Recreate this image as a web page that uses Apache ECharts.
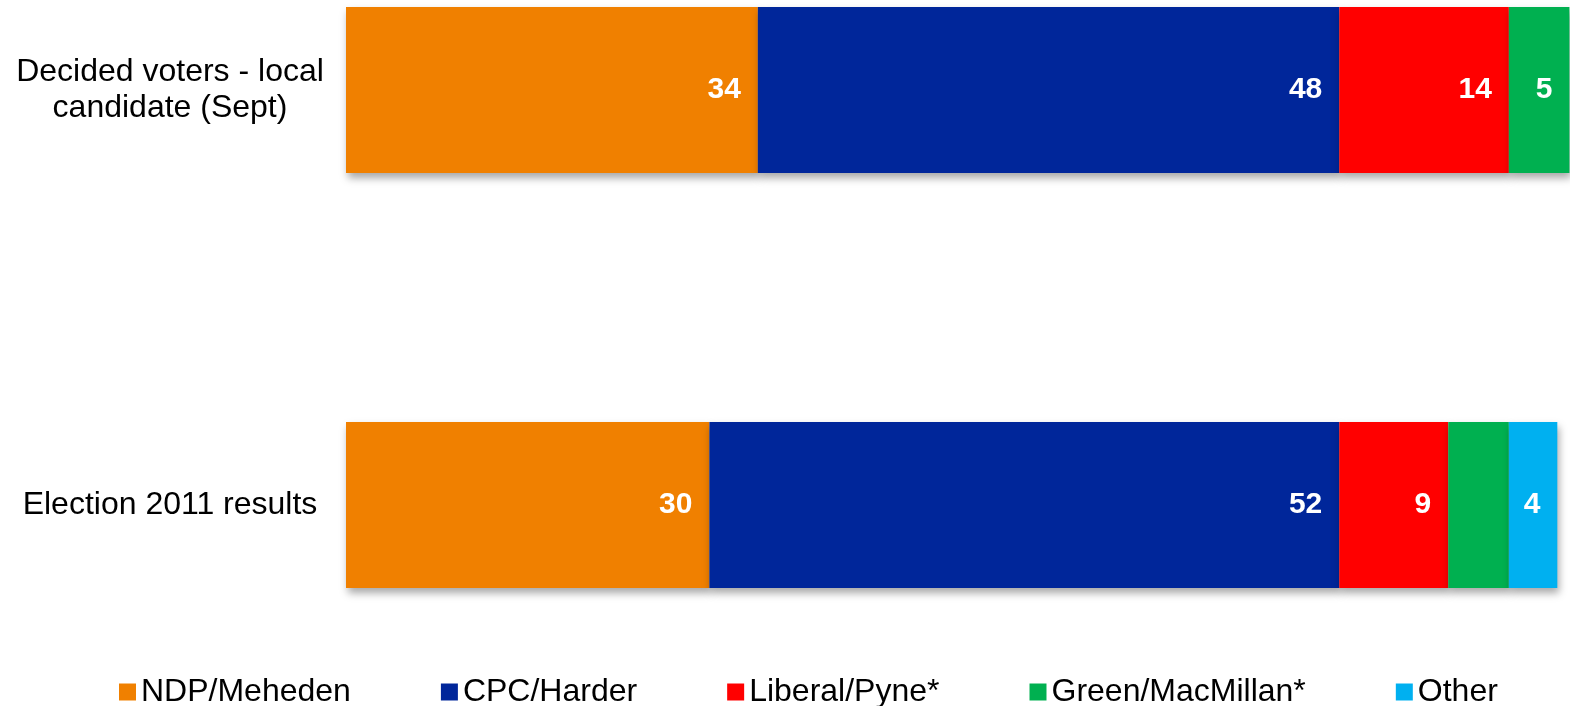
<!DOCTYPE html>
<html>
<head>
<meta charset="utf-8">
<script src="https://cdn.jsdelivr.net/npm/echarts@6/dist/echarts.min.js"></script>
<style>html,body{margin:0;padding:0;background:#fff;}#main{width:1570px;height:706px;}</style>
</head>
<body>
<div id="main"></div>
<script>
const categories = ['Decided voters - local\ncandidate (Sept)', 'Election 2011 results'];
const seriesNames = ['NDP/Meheden', 'CPC/Harder', 'Liberal/Pyne*', 'Green/MacMillan*', 'Other'];
const ndpValues = [34, 30];
const cpcValues = [48, 52];
const liberalValues = [14, 9];
const greenValues = [5, 5];
const otherValues = [0, 4];
const hiddenLabels = [[], [], [], [1], [0]];
const colors = ['#F08000', '#00269A', '#FF0000', '#00B050', '#00B0F0'];

const allValues = [ndpValues, cpcValues, liberalValues, greenValues, otherValues];
const font = 'Liberation Sans, Arial, sans-serif';

const chart = echarts.init(document.getElementById('main'));
chart.setOption({
  animation: false,
  backgroundColor: '#ffffff',
  grid: { left: 346, right: 3, top: 90, bottom: 201, containLabel: false },
  xAxis: { type: 'value', min: 0, max: 100.8, show: false },
  yAxis: {
    type: 'category', data: categories, inverse: true, boundaryGap: false,
    axisLine: { show: false }, axisTick: { show: false }, splitLine: { show: false },
    axisLabel: { margin: 176, align: 'center', fontSize: 32, lineHeight: 36, padding: [4, 0, 0, 0], color: '#000', fontFamily: font }
  },
  legend: {
    bottom: -7, left: 114, itemGap: 90, itemWidth: 17, itemHeight: 17, icon: 'rect',
    textStyle: { fontSize: 32, color: '#000', fontFamily: font },
    data: seriesNames
  },
  series: seriesNames.map((name, i) => ({
    name: name, type: 'bar', stack: 'total', barWidth: 166, clip: false,
    itemStyle: { color: colors[i], shadowBlur: 8, shadowOffsetY: 5, shadowOffsetX: 2, shadowColor: 'rgba(0,0,0,0.35)' },
    label: { show: true, position: 'insideRight', distance: 17, color: '#fff', fontWeight: 'bold', fontSize: 30, fontFamily: font },
    data: allValues[i].map((v, j) => hiddenLabels[i].includes(j) ? { value: v, label: { show: false } } : v)
  }))
});
</script>
</body>
</html>
